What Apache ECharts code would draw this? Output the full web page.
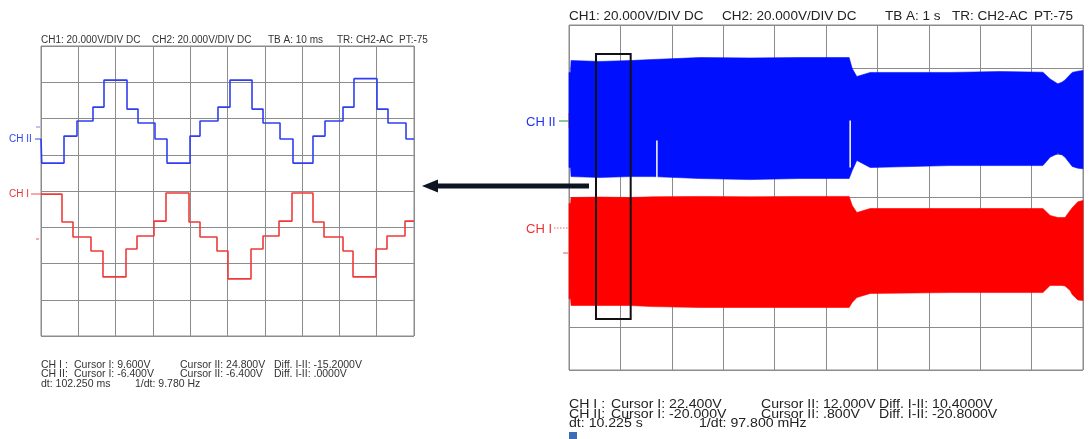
<!DOCTYPE html>
<html><head><meta charset="utf-8">
<script src="https://cdn.jsdelivr.net/npm/echarts@6/dist/echarts.min.js"></script>
<style>html,body{margin:0;padding:0;background:#fff}#c{width:1092px;height:439px}</style>
</head><body><div id="c"></div>
<script>
// ---------- Left scope: 10 ms/div, 20 V/div (screen volts) ----------
const leftBlueT = [0, 0.2, 6.17, 9.65, 13.94, 16.89, 23.06, 26.01, 30.56, 33.78, 39.95, 42.63, 47.45, 50.67, 56.57, 59.52, 64.08, 67.56, 72.92, 76.14, 80.97, 83.91, 90.08, 93.03, 97.86];
const leftBlueV = [28.7, 15.4, 30.3, 38.6, 46.3, 61.2, 45.2, 37.5, 28.7, 15.4, 30.3, 38.6, 46.3, 61.2, 45.2, 37.5, 28.7, 15.4, 30.3, 38.6, 46.3, 62.0, 45.2, 37.5, 28.7];
const leftRedT = [0, 5.63, 8.58, 13.4, 16.62, 22.79, 25.74, 30.29, 33.51, 39.68, 42.63, 47.18, 50.13, 56.3, 59.52, 63.81, 67.29, 72.92, 75.87, 80.97, 83.65, 89.81, 92.76, 97.59];
const leftRedV = [-1.7, -17.1, -25.4, -33.1, -47.4, -32.0, -24.8, -16.6, -1.1, -17.1, -25.4, -33.1, -48.5, -32.0, -24.8, -16.6, -1.1, -17.1, -25.4, -33.1, -47.4, -32.0, -24.8, -16.6];
const leftTimeMax = 100;

// ---------- Right scope: 1 s/div, envelope of dense waveform ----------
const rightT       = [0, 0.03, 0.04, 0.6, 1.19, 1.63, 2.55, 3.52, 4.49, 5.45, 5.51, 5.6, 5.86, 7.41, 8.39, 9.22, 9.36, 9.51, 9.59, 9.65, 9.75, 9.79, 9.9, 10];
const rightBlueTop = [58.0, 58.0, 63.5, 63.1, 63.5, 64.0, 64.9, 64.7, 64.9, 64.9, 59.8, 56.1, 58.0, 58.0, 58.4, 58.1, 55.0, 52.7, 53.5, 54.5, 57.0, 58.0, 58.6, 58.9];
const rightBlueBot = [13.9, 13.9, 9.7, 9.3, 9.7, 9.7, 8.8, 8.3, 8.8, 8.8, 12.5, 17.2, 13.9, 14.8, 14.8, 14.8, 18.7, 20.4, 19.8, 18.7, 15.6, 14.4, 13.6, 13.3];
const rightRedTop  = [-2.8, -2.8, 0, 0.2, 0, 0.3, 0.5, 0.3, 0.5, 0.5, -3.7, -7.0, -5.1, -5.1, -5.1, -5.1, -8.3, -9.3, -9.3, -9.3, -6.0, -4.8, -2.0, -1.4];
const rightRedBot  = [-47.0, -47.0, -50.1, -50.1, -50.1, -50.6, -51.0, -51.0, -51.0, -51.0, -48.7, -46.4, -44.5, -44.1, -44.1, -44.1, -40.8, -40.8, -40.8, -41.0, -43.1, -45.0, -47.5, -47.8];
const rightGapT   = [1.71, 5.47];
const rightGapTop = [26.4, 35.7];
const rightGapBot = [8.6, 13.9];
const zoomBox = [0.525, 1.2, -56.3, 66.6]; // t0, t1, vLow, vHigh

// ---------- Texts ----------
const leftTitle  = ['CH1: 20.000V/DIV DC', 'CH2: 20.000V/DIV DC', 'TB A: 10 ms', 'TR: CH2-AC', 'PT:-75'];
const rightTitle = ['CH1: 20.000V/DIV DC', 'CH2: 20.000V/DIV DC', 'TB A: 1 s', 'TR: CH2-AC', 'PT:-75'];
const leftReadout = [
  ['CH I :', 'Cursor I: 9.600V', 'Cursor II: 24.800V', 'Diff. I-II: -15.2000V'],
  ['CH II:', 'Cursor I: -6.400V', 'Cursor II: -6.400V', 'Diff. I-II: .0000V'],
  ['dt: 102.250 ms', '1/dt: 9.780 Hz']
];
const rightReadout = [
  ['CH I :', 'Cursor I: 22.400V', 'Cursor II: 12.000V', 'Diff. I-II: 10.4000V'],
  ['CH II:', 'Cursor I: -20.000V', 'Cursor II: .800V', 'Diff. I-II: -20.8000V'],
  ['dt: 10.225 s', '1/dt: 97.800 mHz']
];
const chLabels = ['CH II', 'CH I'];

// ---------- build ----------
const FONT = '"Liberation Sans", Arial, sans-serif';
const GRID_C = '#8c8c8c';
function steps(T, V, tEnd) {
  const d = T.map((t, i) => [t, V[i]]);
  d.push([tEnd, V[V.length - 1]]);
  return d;
}
function txt(x, y, s, size, fill, sx) {
  return { type: 'text', x: x, y: y, scaleX: sx || 1, silent: true,
    style: { text: s, font: size + 'px ' + FONT, fill: fill, verticalAlign: 'middle' } };
}
function envelope(top, bot, color) {
  return {
    type: 'custom', xAxisIndex: 1, yAxisIndex: 1, data: [[0, 0]], z: 3,
    renderItem: function (params, api) {
      const pts = [];
      for (let i = 0; i < rightT.length; i++) pts.push(api.coord([rightT[i], top[i]]));
      for (let i = rightT.length - 1; i >= 0; i--) pts.push(api.coord([rightT[i], bot[i]]));
      return { type: 'polygon', shape: { points: pts }, style: { fill: color, stroke: color, lineWidth: 0.6 } };
    }
  };
}
const axisCommon = {
  axisLine: { show: false }, axisTick: { show: false }, axisLabel: { show: false },
  splitLine: { show: true, lineStyle: { color: GRID_C, width: 1 } }
};

const graphics = [];
// titles
[41, 152, 268, 337, 399].forEach((x, i) => graphics.push(txt(x, 40, leftTitle[i], 10, '#333')));
[569, 722, 885, 952, 1034].forEach((x, i) => graphics.push(txt(x, 16, rightTitle[i], 13, '#222', 1.04)));
// readouts
const lxs = [[41, 74, 180, 274], [41, 74, 180, 274], [41, 135]];
const lys = [365.5, 374.5, 384];
leftReadout.forEach((row, r) => row.forEach((s, j) => graphics.push(txt(lxs[r][j], lys[r], s, 10.5, '#333'))));
const rxs = [[569, 611, 761, 879], [569, 611, 761, 879], [569, 699]];
const rys = [405, 414.5, 424];
rightReadout.forEach((row, r) => row.forEach((s, j) => graphics.push(txt(rxs[r][j], rys[r], s, 12.5, '#222', 1.13))));
graphics.push({ type: 'rect', shape: { x: 569, y: 432, width: 8, height: 7 }, style: { fill: '#3b6cb5' } });
// channel markers left
graphics.push(txt(9, 139, chLabels[0], 10, '#3344ee'));
graphics.push({ type: 'line', shape: { x1: 35, y1: 139, x2: 41, y2: 139 }, style: { stroke: '#3344ee', lineWidth: 1 } });
graphics.push({ type: 'line', shape: { x1: 36, y1: 127, x2: 40, y2: 127 }, style: { stroke: '#7a86ee', lineWidth: 1 } });
graphics.push(txt(9, 194, chLabels[1], 10, '#ee3333'));
graphics.push({ type: 'line', shape: { x1: 31, y1: 194, x2: 41, y2: 194 }, style: { stroke: '#ee5555', lineWidth: 1 } });
graphics.push({ type: 'line', shape: { x1: 36, y1: 239, x2: 39, y2: 239 }, style: { stroke: '#ee5555', lineWidth: 1 } });
// channel markers right
graphics.push(txt(526, 122, chLabels[0], 13, '#2233ee'));
graphics.push({ type: 'line', shape: { x1: 559, y1: 121, x2: 568, y2: 121 }, style: { stroke: '#33aa44', lineWidth: 1.2 } });
graphics.push({ type: 'line', shape: { x1: 568, y1: 121, x2: 580, y2: 121 }, style: { stroke: '#e07a30', lineWidth: 1.2 } });
graphics.push({ type: 'line', shape: { x1: 569, y1: 113, x2: 569, y2: 128 }, style: { stroke: '#e07a30', lineWidth: 1.2 } });
graphics.push(txt(526, 229, chLabels[1], 13, '#ee3333'));
graphics.push({ type: 'line', shape: { x1: 554, y1: 228, x2: 569, y2: 228 }, style: { stroke: '#ee6666', lineWidth: 1, lineDash: [1.5, 1.5] } });
graphics.push({ type: 'line', shape: { x1: 563, y1: 253, x2: 568, y2: 253 }, style: { stroke: '#ee5555', lineWidth: 1 } });
// arrow
graphics.push({ type: 'rect', z: 100, shape: { x: 434, y: 183.5, width: 155, height: 5 }, style: { fill: '#0d1422' } });
graphics.push({ type: 'polygon', z: 100, shape: { points: [[422, 186], [438, 179.5], [438, 192.5]] }, style: { fill: '#0d1422' } });

const option = {
  animation: false,
  backgroundColor: '#fff',
  grid: [
    { left: 41, top: 46, width: 373, height: 290, show: true, borderColor: GRID_C, borderWidth: 1, backgroundColor: 'transparent' },
    { left: 569, top: 25, width: 514, height: 345, show: true, borderColor: GRID_C, borderWidth: 1, backgroundColor: 'transparent' }
  ],
  xAxis: [
    Object.assign({ type: 'value', gridIndex: 0, min: 0, max: 100, interval: 10 }, axisCommon),
    Object.assign({ type: 'value', gridIndex: 1, min: 0, max: 10, interval: 1 }, axisCommon)
  ],
  yAxis: [
    Object.assign({ type: 'value', gridIndex: 0, min: -80, max: 80, interval: 20 }, axisCommon),
    Object.assign({ type: 'value', gridIndex: 1, min: -80, max: 80, interval: 20 }, axisCommon)
  ],
  series: [
    { type: 'line', xAxisIndex: 0, yAxisIndex: 0, step: 'end', symbol: 'none', data: steps(leftBlueT, leftBlueV, leftTimeMax),
      lineStyle: { color: '#2f3ff0', width: 1.6 }, z: 3 },
    { type: 'line', xAxisIndex: 0, yAxisIndex: 0, step: 'end', symbol: 'none', data: steps(leftRedT, leftRedV, leftTimeMax),
      lineStyle: { color: '#f03a3a', width: 1.6 }, z: 3 },
    envelope(rightBlueTop, rightBlueBot, '#0010ff'),
    envelope(rightRedTop, rightRedBot, '#ff0000'),
    {
      type: 'custom', xAxisIndex: 1, yAxisIndex: 1, data: rightGapT.map((t, i) => [t, rightGapTop[i], rightGapBot[i]]), z: 4,
      renderItem: function (params, api) {
        const a = api.coord([api.value(0), api.value(1)]);
        const b = api.coord([api.value(0), api.value(2)]);
        return { type: 'line', shape: { x1: a[0], y1: a[1], x2: b[0], y2: b[1] }, style: { stroke: '#ffffff', lineWidth: 1.5 } };
      }
    },
    {
      type: 'custom', xAxisIndex: 1, yAxisIndex: 1, data: [zoomBox], z: 6,
      renderItem: function (params, api) {
        const p0 = api.coord([api.value(0), api.value(3)]);
        const p1 = api.coord([api.value(1), api.value(2)]);
        return { type: 'rect', shape: { x: p0[0], y: p0[1], width: p1[0] - p0[0], height: p1[1] - p0[1] },
          style: { fill: 'none', stroke: '#111', lineWidth: 2 } };
      }
    }
  ],
  graphic: graphics
};
const chart = echarts.init(document.getElementById('c'), null, { renderer: 'canvas' });
chart.setOption(option);
</script>
</body></html>
